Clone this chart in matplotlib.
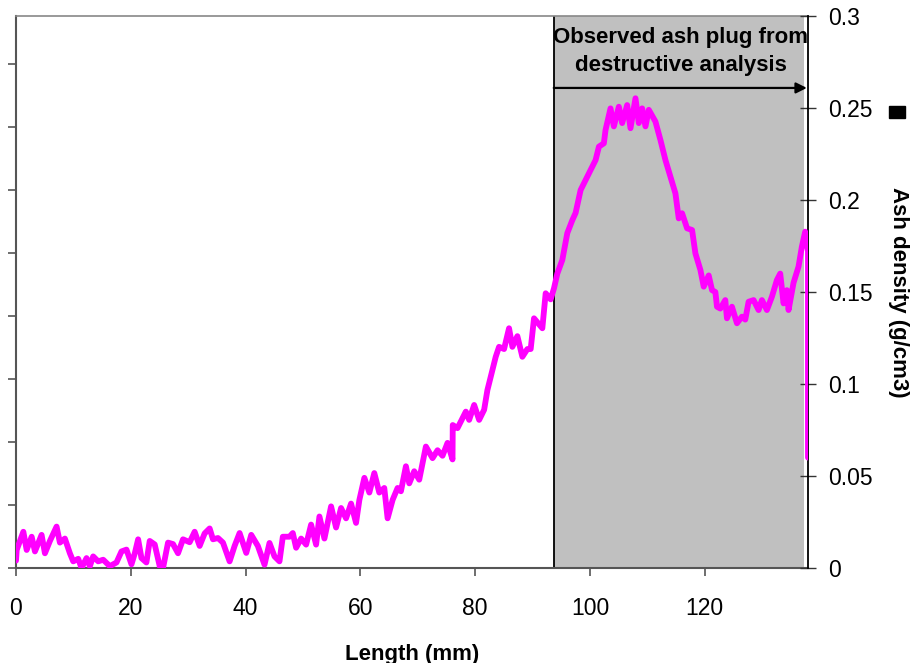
import matplotlib.pyplot as plt
from matplotlib.patches import Rectangle

# length along the sample (mm) and ash density (g/cm3)
length_mm = [
    0.0, 0.12, 1.28, 1.86, 2.73, 3.30, 4.46, 5.04, 5.91, 7.07, 7.65, 8.52,
    9.39, 9.97, 10.84, 11.42, 12.29, 12.87, 13.45, 14.32, 15.19, 16.35,
    17.51, 18.38, 19.25, 20.12, 20.70, 21.28, 21.86, 22.72, 23.30, 24.17,
    25.04, 25.62, 26.49, 27.36, 28.23, 29.10, 30.26, 31.13, 32.00, 32.87,
    33.74, 34.32, 35.19, 36.06, 37.22, 38.09, 38.96, 40.12, 40.99, 42.14,
    43.30, 44.17, 45.04, 45.91, 46.49, 47.65, 48.23, 48.81, 49.68, 50.55,
    51.42, 52.29, 52.87, 53.74, 54.90, 55.77, 56.64, 57.51, 58.38, 59.25,
    59.83, 60.70, 61.57, 62.43, 63.30, 64.17, 64.75, 65.62, 66.49, 67.07,
    67.94, 68.52, 69.39, 70.26, 71.42, 72.58, 73.45, 74.32, 75.19, 76.06,
    76.10, 76.93, 78.38, 78.96, 79.83, 80.70, 81.57, 82.14, 82.72, 83.59,
    84.17, 85.04, 85.91, 86.49, 87.36, 88.23, 89.10, 89.68, 90.26, 91.71,
    92.29, 93.16, 93.74, 94.32, 95.19, 96.06, 96.93, 97.51, 98.38, 99.25,
    100.12, 100.99, 101.57, 102.43, 102.72, 103.59, 104.17, 105.04, 105.62,
    106.49, 107.07, 107.94, 108.52, 109.10, 109.68, 110.26, 111.42, 112.29,
    113.16, 114.03, 114.90, 115.48, 116.06, 116.93, 117.80, 118.38, 119.25,
    119.83, 120.70, 121.28, 121.86, 122.14, 122.72, 123.59, 123.88, 124.75,
    125.62, 126.49, 127.07, 127.65, 128.52, 129.39, 129.97, 130.84, 131.71,
    132.58, 133.16, 133.74, 134.32, 134.61, 135.48, 136.35, 136.93, 137.51,
    138.0, 138.0,
]
ash_density = [
    0.004, 0.0098, 0.0197, 0.0098, 0.017, 0.009, 0.018, 0.008, 0.0147,
    0.0225, 0.0138, 0.016, 0.008, 0.0036, 0.005, 0.0, 0.0054, 0.001,
    0.0063, 0.0036, 0.0045, 0.001, 0.003, 0.009, 0.010, 0.002, 0.008,
    0.0156, 0.0054, 0.003, 0.0147, 0.0128, 0.001, 0.0, 0.0138, 0.013,
    0.008, 0.0156, 0.014, 0.0197, 0.012, 0.0188, 0.0215, 0.0156, 0.0163,
    0.0138, 0.0036, 0.012, 0.019, 0.0082, 0.018, 0.012, 0.0018, 0.0136,
    0.0063, 0.0036, 0.017, 0.017, 0.019, 0.011, 0.016, 0.0127, 0.0236,
    0.0127, 0.028, 0.016, 0.0335, 0.022, 0.0326, 0.027, 0.035, 0.0245,
    0.037, 0.049, 0.041, 0.0516, 0.041, 0.0435, 0.027, 0.037, 0.0435,
    0.0417, 0.0553, 0.046, 0.0526, 0.0480, 0.066, 0.0597, 0.064, 0.061,
    0.068, 0.059, 0.0777, 0.076, 0.085, 0.0805, 0.0886, 0.0805, 0.086,
    0.0967, 0.104, 0.1148, 0.1202, 0.119, 0.1303, 0.1202, 0.126, 0.1148,
    0.119, 0.119, 0.1357, 0.1303, 0.1493, 0.146, 0.152, 0.160, 0.1674,
    0.182, 0.189, 0.193, 0.2054, 0.2109, 0.2163, 0.2217, 0.229, 0.2308,
    0.238, 0.2498, 0.240, 0.2507, 0.2418, 0.2516, 0.239, 0.2553, 0.2418,
    0.2498, 0.240, 0.249, 0.2426, 0.2326, 0.2217, 0.2127, 0.2036, 0.19,
    0.1928, 0.1846, 0.1837, 0.171, 0.162, 0.1529, 0.159, 0.151, 0.150,
    0.142, 0.141, 0.1456, 0.1357, 0.142, 0.133, 0.1366, 0.135, 0.1447,
    0.1456, 0.1402, 0.1456, 0.1402, 0.1474, 0.1565, 0.16, 0.1438, 0.151,
    0.1402, 0.155, 0.1638, 0.1746, 0.1828, 0.172, 0.06,
]

plug_start = 93.7
plug_end = 137.3
x_ticks = [0, 20, 40, 60, 80, 100, 120]
y_ticks = [0, 0.05, 0.1, 0.15, 0.2, 0.25, 0.3]
y_tick_labels = ['0', '0.05', '0.1', '0.15', '0.2', '0.25', '0.3']

plt.rcParams['font.family'] = ['Liberation Sans', 'DejaVu Sans']

fig = plt.figure(figsize=(9.12, 6.63), dpi=100)
ax = fig.add_axes([16 / 912, 95 / 663, 792 / 912, 552 / 663])

# left axis: only unlabeled ticks
ax.set_xlim(0, 138)
ax.set_ylim(0, 8.76)
ax.set_yticks(range(0, 9))
ax.set_yticklabels([])
ax.tick_params(axis='y', direction='out', length=6, width=1.2, color='#555555')
ax.axvspan(plug_start, plug_end, color='#C0C0C0', zorder=0, lw=0)
ax.axvline(plug_start, color='black', lw=1.3, zorder=1)

ax.set_xticks(x_ticks)
ax.set_xticklabels([str(t) for t in x_ticks], fontsize=16.5)
ax.tick_params(axis='x', direction='out', length=6, width=1.2,
               color='#555555', pad=15)
ax.set_xlabel('Length (mm)', fontsize=16, fontweight='bold', labelpad=17)

ax.spines['left'].set_color('#555555')
ax.spines['left'].set_linewidth(1.5)
ax.spines['bottom'].set_color('#555555')
ax.spines['bottom'].set_linewidth(1.5)
ax.spines['top'].set_color('#888888')
ax.spines['top'].set_linewidth(1.2)
ax.spines['right'].set_visible(False)

ax2 = ax.twinx()
ax2.set_ylim(0, 0.3)
ax2.set_yticks(y_ticks)
ax2.set_yticklabels(y_tick_labels, fontsize=16.5)
ax2.tick_params(axis='y', direction='inout', length=11.5, width=1.0,
                color='#333333', pad=9)
ax2.spines['right'].set_color('black')
ax2.spines['right'].set_linewidth(1.3)
for s in ['left', 'top', 'bottom']:
    ax2.spines[s].set_visible(False)
ax2.set_ylabel('Ash density (g/cm3)', fontsize=16, fontweight='bold',
               rotation=270, labelpad=26)

ax2.plot(length_mm, ash_density, color='#FF00FF', lw=4.2,
         solid_joinstyle='round', solid_capstyle='round', zorder=3)

ax2.annotate('', xy=(137.8, 0.2609), xytext=(plug_start, 0.2609),
             arrowprops=dict(arrowstyle='-|>', color='black', lw=1.6,
                             mutation_scale=16, shrinkA=0, shrinkB=0))
ax2.text(115.8, 0.2805, 'Observed ash plug from\ndestructive analysis',
         ha='center', va='center', fontsize=16, fontweight='bold',
         linespacing=1.45)

# fragment of a legend marker cut off at the right edge
fig.patches.append(Rectangle((889 / 912, (663 - 118) / 663), 16 / 912,
                             12 / 663, transform=fig.transFigure,
                             color='black'))

fig.savefig('out.png', dpi=100)
